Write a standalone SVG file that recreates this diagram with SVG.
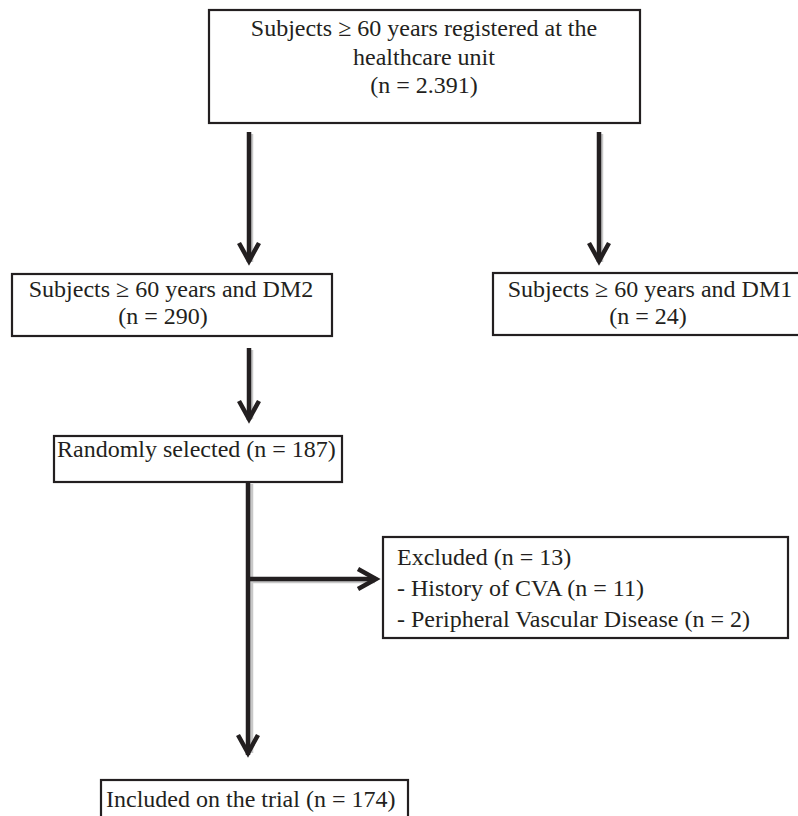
<svg xmlns="http://www.w3.org/2000/svg" width="798" height="816" viewBox="0 0 798 816">
<style>
.box{fill:#fff;stroke:#231f20;stroke-width:2.2}
.t{font-family:"Liberation Serif","Times New Roman",serif;font-size:24px;fill:#231f20}
.c{text-anchor:middle}
.ln{fill:none;stroke:#231f20;stroke-width:4.5}
.hd{fill:none;stroke:#231f20;stroke-width:4.5;stroke-linecap:butt;stroke-linejoin:miter}
.sh{fill:none;stroke:#c8c8c8;stroke-width:4.5}
</style>
<rect width="798" height="816" fill="#fff"/>
<g id="connectors">
  <!-- shadows -->
  <path class="sh" d="M251,134 V262 M601,134 V262 M251,350 V419 M251,484 V753 M250,581 H375"/>
  <!-- top to DM2 -->
  <path class="ln" d="M249,132 V262"/>
  <path class="hd" d="M239,243 L249,261 L259,243"/>
  <!-- top to DM1 -->
  <path class="ln" d="M599,132 V262"/>
  <path class="hd" d="M589,243 L599,261 L609,243"/>
  <!-- DM2 to Randomly -->
  <path class="ln" d="M249,348 V420"/>
  <path class="hd" d="M239,401 L249,419 L259,401"/>
  <!-- Randomly to Included -->
  <path class="ln" d="M248,482 V755"/>
  <path class="hd" d="M238,735 L248,753 L258,735"/>
  <!-- branch to Excluded -->
  <path class="ln" d="M248,579 H376"/>
  <path class="hd" d="M358,569 L376,579 L358,589"/>
</g>
<g id="node-registered">
  <rect class="box" x="209" y="10" width="431" height="113"/>
  <text class="t c" x="424" y="36">Subjects ≥ 60 years registered at the</text>
  <text class="t c" x="424" y="65">healthcare unit</text>
  <text class="t c" x="424" y="93">(n = 2.391)</text>
</g>
<g id="node-dm2">
  <rect class="box" x="12" y="274" width="320" height="62"/>
  <text class="t c" x="171" y="297">Subjects ≥ 60 years and DM2</text>
  <text class="t c" x="163" y="324">(n = 290)</text>
</g>
<g id="node-dm1">
  <rect class="box" x="493" y="273" width="315" height="62"/>
  <text class="t c" x="650" y="297">Subjects ≥ 60 years and DM1</text>
  <text class="t c" x="648" y="324">(n = 24)</text>
</g>
<g id="node-random">
  <rect class="box" x="54" y="436" width="288" height="46"/>
  <text class="t" x="57" y="457">Randomly selected (n = 187)</text>
</g>
<g id="node-excluded">
  <rect class="box" x="383" y="537" width="405" height="101"/>
  <text class="t" x="397" y="565">Excluded (n = 13)</text>
  <text class="t" x="397" y="596">- History of CVA (n = 11)</text>
  <text class="t" x="397" y="627">- Peripheral Vascular Disease (n = 2)</text>
</g>
<g id="node-included">
  <rect class="box" x="101" y="780" width="307" height="46"/>
  <text class="t" x="106" y="807">Included on the trial (n = 174)</text>
</g>
</svg>
